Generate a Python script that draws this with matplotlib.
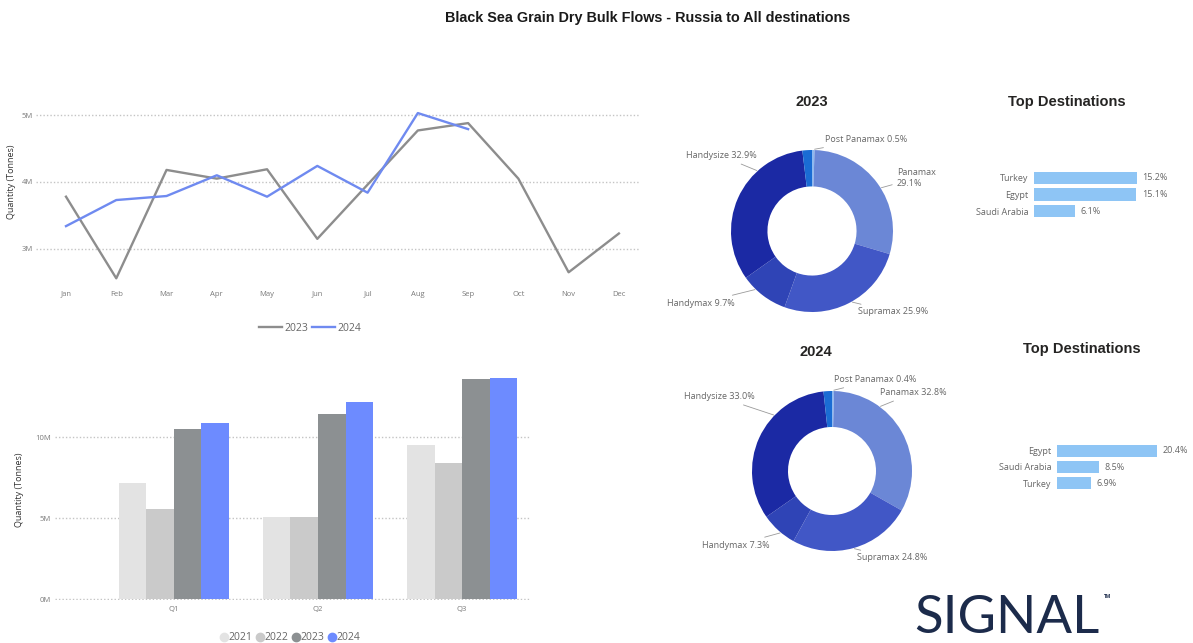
import numpy as np
import matplotlib
matplotlib.use('Agg')
import matplotlib.pyplot as plt
from matplotlib.lines import Line2D

# ---- data ----
months = ['Jan', 'Feb', 'Mar', 'Apr', 'May', 'Jun', 'Jul', 'Aug', 'Sep', 'Oct', 'Nov', 'Dec']
monthly_2023 = [3.78, 2.56, 4.18, 4.05, 4.19, 3.15, 3.96, 4.77, 4.88, 4.05, 2.65, 3.23]   # M tonnes
monthly_2024 = [3.34, 3.73, 3.79, 4.10, 3.78, 4.24, 3.84, 5.03, 4.79]

quarters = ['Q1', 'Q2', 'Q3']
years = ['2021', '2022', '2023', '2024']
q_2021 = [7.18, 5.08, 9.50]
q_2022 = [5.54, 5.04, 8.41]
q_2023 = [10.49, 11.40, 13.60]
q_2024 = [10.86, 12.14, 13.64]

vessel_classes = ['Post Panamax', 'Panamax', 'Supramax', 'Handymax', 'Handysize', 'Other']
share_2023 = [0.5, 29.1, 25.9, 9.7, 32.9, 1.9]
share_2024 = [0.4, 32.8, 24.8, 7.3, 33.0, 1.7]

dest_2023 = ['Turkey', 'Egypt', 'Saudi Arabia']
dest_share_2023 = [15.2, 15.1, 6.1]
dest_2024 = ['Egypt', 'Saudi Arabia', 'Turkey']
dest_share_2024 = [20.4, 8.5, 6.9]

# ---- style ----
W, H = 1193, 643
plt.rcParams['font.family'] = ['Open Sans', 'DejaVu Sans']
TICK_C = '#7a7a7a'
GRID_C = '#c4c4c4'
TITLE_C = '#252423'
year_colors = ['#e3e3e3', '#cacaca', '#8c9092', '#6d8bff']
line_colors = {'2023': '#8d8d8d', '2024': '#6f8af0'}
donut_colors = ['#8fb9f0', '#6b87d6', '#4157c6', '#2f44b6', '#1b29a4', '#1a6cd4']
bar_blue = '#8ec5f5'

fig = plt.figure(figsize=(W / 100, H / 100), dpi=100)
fig.patch.set_facecolor('white')


def px_axes(left, top, right, bottom):
    return fig.add_axes([left / W, 1 - bottom / H, (right - left) / W, (bottom - top) / H])


def clean(ax):
    for s in ax.spines.values():
        s.set_visible(False)
    ax.tick_params(length=0, labelsize=5.5, colors=TICK_C)
    ax.grid(axis='y', linestyle=(0, (1, 1.5)), color=GRID_C, lw=1.0)
    ax.set_axisbelow(True)


fig.text(648 / W, 1 - 18 / H, 'Black Sea Grain Dry Bulk Flows - Russia to All destinations',
         ha='center', va='center', fontsize=10.4, fontweight='bold',
         family='Liberation Sans', color='#1a1a1a')

# ---- monthly line chart ----
ax1 = px_axes(36, 95, 640, 285)
x = np.arange(len(months))
ax1.plot(x, monthly_2023, color=line_colors['2023'], lw=1.7)
ax1.plot(x[:len(monthly_2024)], monthly_2024, color=line_colors['2024'], lw=1.7)
ax1.set_xlim(-0.597, 11.42)
ax1.set_ylim(2.46, 5.30)
ax1.set_yticks([3, 4, 5])
ax1.set_yticklabels(['3M', '4M', '5M'])
ax1.set_xticks(x)
ax1.set_xticklabels(months)
clean(ax1)
ax1.tick_params(axis='x', pad=4)
ax1.tick_params(axis='y', pad=2)
fig.text(12 / W, 1 - 182 / H, 'Quantity (Tonnes)', rotation=90, ha='center', va='center',
         fontsize=6.5, color='#333333')
h1 = [Line2D([], [], color=line_colors[k], lw=1.7) for k in ['2023', '2024']]
fig.legend(h1, ['2023', '2024'], loc='center', bbox_to_anchor=(310 / W, 1 - 328 / H), ncol=2,
           frameon=False, fontsize=7.5, handlelength=2.2, handletextpad=0.3, columnspacing=0.3,
           labelcolor='#666666')

# ---- quarterly bar chart ----
ax2 = px_axes(55, 370, 530, 600)
qx = np.arange(len(quarters))
bw = 0.191
for i, (vals, c) in enumerate(zip([q_2021, q_2022, q_2023, q_2024], year_colors)):
    ax2.bar(qx + (i - 1.5) * bw, vals, width=bw, color=c, zorder=3)
ax2.set_xlim(-0.826, 2.472)
ax2.set_ylim(-0.06, 14.14)
ax2.set_yticks([0, 5, 10])
ax2.set_yticklabels(['0M', '5M', '10M'])
ax2.set_xticks(qx)
ax2.set_xticklabels(quarters)
clean(ax2)
ax2.tick_params(axis='x', pad=4)
ax2.tick_params(axis='y', pad=3)
fig.text(20 / W, 1 - 490 / H, 'Quantity (Tonnes)', rotation=90, ha='center', va='center',
         fontsize=6.5, color='#333333')
h2 = [Line2D([], [], marker='o', ls='none', color=c, markersize=6) for c in year_colors]
fig.legend(h2, years, loc='center', bbox_to_anchor=(290 / W, 1 - 638 / H), ncol=4,
           frameon=False, fontsize=7.5, handlelength=0.8, handletextpad=0.05,
           columnspacing=0.3, labelcolor='#666666')


# ---- donuts ----
def donut(cx, cy, R, shares, labels, title, title_xy):
    S = 100
    ax = px_axes(cx - S, cy - S, cx + S, cy + S)
    wedges, _ = ax.pie(shares, radius=1, startangle=90, counterclock=False,
                       colors=donut_colors, wedgeprops=dict(width=0.45, edgecolor='none'))
    ax.set_xlim(-S / R, S / R)
    ax.set_ylim(-S / R, S / R)
    ax.set_aspect('equal')
    ax.axis('off')
    for w, lab in zip(wedges, labels):
        if lab is None:
            continue
        text, tx, ty, ha = lab
        dx, dy = (tx - cx) / R, -(ty - cy) / R
        ang = np.degrees(np.arctan2(dy, dx))
        lo, hi = sorted([w.theta1, w.theta2])
        # bring label direction into the wedge span
        cand = [ang + k * 360 for k in (-1, 0, 1)]
        ang = min(cand, key=lambda a: 0 if lo <= a <= hi else min(abs(a - lo), abs(a - hi)))
        ang = np.clip(ang, lo + (hi - lo) * 0.3 if hi - lo > 3 else lo, hi - (hi - lo) * 0.3 if hi - lo > 3 else hi)
        ex, ey = np.cos(np.radians(ang)), np.sin(np.radians(ang))
        ax.annotate(text, xy=(ex * 1.01, ey * 1.01), xytext=(dx, dy), ha=ha, va='center',
                    fontsize=6.5, color='#666666', annotation_clip=False,
                    arrowprops=dict(arrowstyle='-', color='#9a9a9a', lw=0.6, shrinkA=1.5, shrinkB=0))
    fig.text(title_xy[0] / W, 1 - title_xy[1] / H, title, ha='center', va='center',
             fontsize=10.5, fontweight='bold', family='Liberation Sans', color=TITLE_C)


lab23 = [('Post Panamax %.1f%%' % share_2023[0], 825, 140, 'left'),
         ('Panamax\n%.1f%%' % share_2023[1], 897, 178, 'left'),
         ('Supramax %.1f%%' % share_2023[2], 858, 312, 'left'),
         ('Handymax %.1f%%' % share_2023[3], 735, 303, 'right'),
         ('Handysize %.1f%%' % share_2023[4], 757, 156, 'right'),
         None]
lab24 = [('Post Panamax %.1f%%' % share_2024[0], 834, 380, 'left'),
         ('Panamax %.1f%%' % share_2024[1], 880, 393, 'left'),
         ('Supramax %.1f%%' % share_2024[2], 857, 558, 'left'),
         ('Handymax %.1f%%' % share_2024[3], 770, 545, 'right'),
         ('Handysize %.1f%%' % share_2024[4], 755, 397, 'right'),
         None]
donut(812, 231, 81, share_2023, lab23, '2023', (812, 102))
donut(832, 471, 80, share_2024, lab24, '2024', (816, 352))


# ---- top destinations ----
def top_dest(names, vals, box, xmax, title_xy):
    ax = px_axes(*box)
    bars = ax.barh(np.arange(len(names)), vals, height=0.73, color=bar_blue)
    ax.set_xlim(0, xmax)
    ax.set_ylim(len(names) - 0.4, -0.6)
    ax.set_yticks(np.arange(len(names)))
    ax.set_yticklabels(names)
    ax.set_xticks([])
    for s in ax.spines.values():
        s.set_visible(False)
    ax.tick_params(length=0, labelsize=6.5, colors='#666666', pad=4)
    ax.bar_label(bars, labels=['%.1f%%' % v for v in vals], padding=4, fontsize=6.5, color='#666666')
    fig.text(title_xy[0] / W, 1 - title_xy[1] / H, 'Top Destinations', ha='center', va='center',
             fontsize=10.5, fontweight='bold', family='Liberation Sans', color=TITLE_C)


top_dest(dest_2023, dest_share_2023, (1034, 168, 1180, 221), 146 / 6.78, (1067, 102))
top_dest(dest_2024, dest_share_2024, (1057, 441, 1190, 493), 133 / 4.9, (1082, 349))

# ---- logo ----
fig.text(914 / W, 1 - 633 / H, 'SIGNAL', ha='left', va='baseline', fontsize=38,
         family='Lato', color='#1c2b4b')
fig.text(1104 / W, 1 - 596 / H, 'TM', ha='left', va='center', fontsize=3.5,
         color='#1c2b4b', fontweight='bold')

fig.savefig('out.png', dpi=100, facecolor='white')
